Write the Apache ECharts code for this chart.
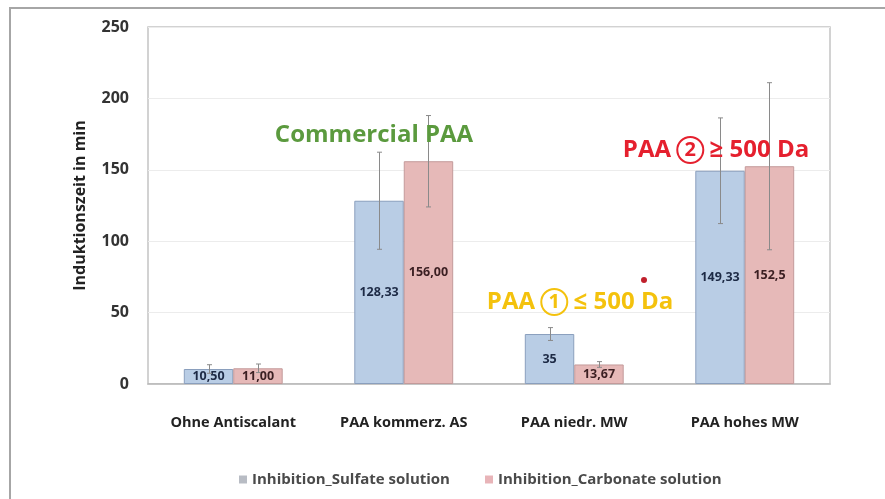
<!DOCTYPE html>
<html>
<head>
<meta charset="utf-8">
<script src="https://cdn.jsdelivr.net/npm/echarts@6/dist/echarts.min.js"></script>
<style>
  html, body { margin: 0; padding: 0; background: #fff; }
  #chart { width: 885px; height: 499px; }
</style>
</head>
<body>
<div id="chart"></div>
<script>
// Induction time per antiscalant, two test solutions
const categories = ['Ohne Antiscalant', 'PAA kommerz. AS', 'PAA niedr. MW', 'PAA hohes MW'];
const seriesNames = ['Inhibition_Sulfate solution', 'Inhibition_Carbonate solution'];

const sulfateValues = [10.5, 128.33, 35, 149.33];
const sulfateDecimals = [2, 2, 0, 2];
const sulfateErrors = [3, 34, 4.5, 37];

const carbonateValues = [11.0, 156.0, 13.67, 152.5];
const carbonateDecimals = [2, 2, 2, 1];
const carbonateErrors = [3, 32, 2, 58.5];

const yTicks = { min: 0, max: 250, interval: 50 };

const FONT = '"Open Sans", "Noto Sans", sans-serif';
const BAR_FRAC = 0.29;

function fmt(v, d) { return v.toFixed(d).replace('.', ','); }

function barSeries(name, values, decimals, fill, edge, labelColor) {
  return {
    name: name,
    type: 'bar',
    barWidth: (BAR_FRAC * 100) + '%',
    barGap: '0%',
    data: values,
    itemStyle: { color: fill, borderColor: edge, borderWidth: 1 },
    label: {
      show: true,
      position: 'inside',
      fontFamily: FONT,
      fontWeight: 'bold',
      fontSize: 12.5,
      color: labelColor,
      formatter: p => fmt(p.value, decimals[p.dataIndex])
    },
    z: 2
  };
}

function errorSeries(values, errors, side) {
  return {
    type: 'custom',
    data: values.map((v, i) => [i, v, errors[i]]),
    encode: { x: 0, y: 1 },
    z: 5,
    silent: true,
    renderItem: function (params, api) {
      const i = api.value(0), v = api.value(1), e = api.value(2);
      const band = api.size([1, 0])[0];
      const off = side * band * BAR_FRAC / 2;
      const hi = api.coord([i, v + e]);
      const lo = api.coord([i, v - e]);
      const x = Math.round(hi[0] + off) + 0.5;
      const cap = 2.5;
      const st = { stroke: '#8a8a8a', lineWidth: 1 };
      return {
        type: 'group',
        children: [
          { type: 'line', shape: { x1: x, y1: hi[1], x2: x, y2: lo[1] }, style: st },
          { type: 'line', shape: { x1: x - cap, y1: hi[1], x2: x + cap, y2: hi[1] }, style: st },
          { type: 'line', shape: { x1: x - cap, y1: lo[1], x2: x + cap, y2: lo[1] }, style: st }
        ]
      };
    }
  };
}

// Annotation with a circled digit drawn as a round rich-text box
function circledNote(cx, cy, before, digit, after, color) {
  return {
    type: 'text', z: 10, silent: true,
    style: {
      x: cx, y: cy, align: 'center', verticalAlign: 'middle',
      text: '{t|' + before + ' }{c|' + digit + '}{t| ' + after + '}',
      rich: {
        t: { fontFamily: FONT, fontWeight: 'bold', fontSize: 24, fill: color, lineHeight: 30 },
        c: {
          fontFamily: FONT, fontWeight: 'bold', fontSize: 20, fill: color,
          width: 26, height: 26, lineHeight: 26, align: 'center',
          borderColor: color, borderWidth: 2, borderRadius: 14
        }
      }
    }
  };
}

const chart = echarts.init(document.getElementById('chart'));
chart.setOption({
  animation: false,
  backgroundColor: '#ffffff',
  grid: {
    left: 148, right: 55, top: 27, bottom: 115,
    show: true, borderColor: '#c4c4c4', borderWidth: 1.5
  },
  legend: {
    bottom: 7,
    left: 234,
    itemWidth: 8,
    itemHeight: 8,
    itemGap: 35,
    icon: 'rect',
    textStyle: { fontFamily: FONT, fontWeight: 'bold', fontSize: 15, color: '#4a4a4a' },
    data: [
      { name: seriesNames[0], itemStyle: { color: '#b8bcc4', borderWidth: 0 } },
      { name: seriesNames[1], itemStyle: { color: '#e8b4b8', borderWidth: 0 } }
    ]
  },
  xAxis: {
    type: 'category',
    data: categories,
    axisTick: { show: false },
    axisLine: { show: true, lineStyle: { color: '#b8b8b8', width: 1.5 } },
    axisLabel: {
      interval: 0,
      hideOverlap: false,
      margin: 31,
      fontFamily: FONT, fontWeight: 'bold', fontSize: 14.5, color: '#222'
    }
  },
  yAxis: {
    type: 'value',
    min: yTicks.min, max: yTicks.max, interval: yTicks.interval,
    name: 'Induktionszeit in min',
    nameLocation: 'middle',
    nameGap: 60,
    nameTextStyle: { fontFamily: FONT, fontWeight: 'bold', fontSize: 16, color: '#222' },
    axisLine: { show: false },
    axisTick: { show: false },
    axisLabel: { margin: 19, fontFamily: FONT, fontWeight: 'bold', fontSize: 16, color: '#333' },
    splitLine: { show: true, lineStyle: { color: '#ececec', width: 1 } }
  },
  series: [
    barSeries(seriesNames[0], sulfateValues, sulfateDecimals, '#b9cde5', '#8a9fbd', '#1d2a45'),
    barSeries(seriesNames[1], carbonateValues, carbonateDecimals, '#e6b9b8', '#c39a9a', '#3b1f22'),
    errorSeries(sulfateValues, sulfateErrors, -1),
    errorSeries(carbonateValues, carbonateErrors, 1)
  ],
  graphic: [
    {
      type: 'rect', silent: true, z: -1,
      shape: { x: 10, y: 8, width: 900, height: 520 },
      style: { fill: 'none', stroke: '#a6a6a6', lineWidth: 2 }
    },
    {
      type: 'text', z: 10, silent: true,
      style: {
        x: 374, y: 135, align: 'center', verticalAlign: 'middle',
        text: 'Commercial PAA', fontFamily: FONT, fontWeight: 'bold', fontSize: 24, fill: '#5b9a3e'
      }
    },
    circledNote(716, 150, 'PAA', '2', '\u2265 500 Da', '#e5202e'),
    circledNote(580, 302, 'PAA', '1', '\u2264 500 Da', '#f4c20d'),
    {
      type: 'circle', z: 10,
      shape: { cx: 644, cy: 280, r: 3 },
      style: { fill: '#c0202c' }
    }
  ]
});
</script>
</body>
</html>
